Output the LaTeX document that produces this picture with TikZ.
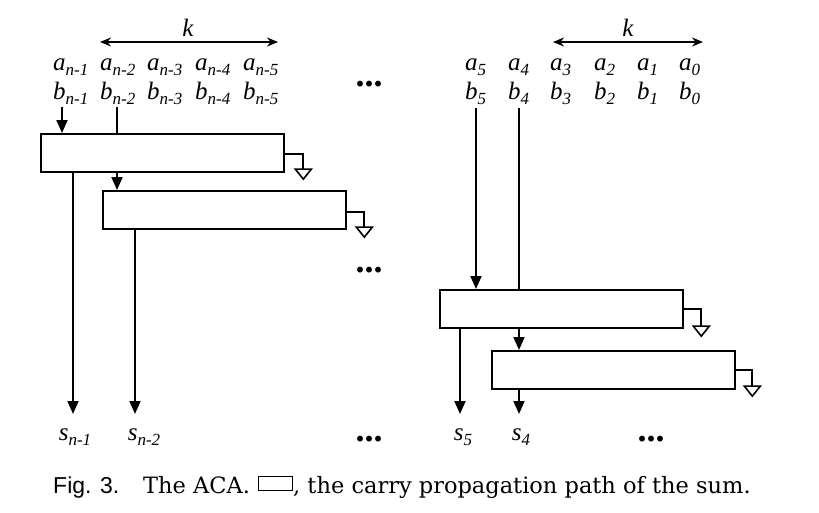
\documentclass[tikz,border=0pt]{standalone}
\usepackage{fontspec}
\setmainfont{Liberation Serif}
\newfontfamily\capsans{Liberation Sans}
\newfontfamily\capserif{DejaVu Serif}
\usetikzlibrary{arrows.meta}
\newcommand{\vv}[2]{\textit{#1}\raisebox{-5pt}{\fontsize{17}{17}\selectfont\itshape #2}}
\tikzset{
  lbl/.style={inner sep=0pt, anchor=base west, font=\fontsize{25}{25}\selectfont},
  slbl/.style={inner sep=0pt, anchor=base, font=\fontsize{25}{25}\selectfont},
  blk/.style={draw, line width=2.3pt, anchor=north west, minimum width=243pt, minimum height=38pt, inner sep=0pt},
  wire/.style={line width=1.9pt},
  arr/.style={line width=1.9pt, -{Triangle[length=13pt,width=11pt]}},
  karr/.style={line width=1.8pt, {Stealth[length=11pt,width=9pt]}-{Stealth[length=11pt,width=9pt]}},
  dots/.style={inner sep=0pt, anchor=base, font=\fontsize{36}{36}\selectfont\bfseries},
  gnd/.pic={\draw[line width=1.6pt, fill=white, line join=miter] (-8,0) -- (8,0) -- (0,10) -- cycle;}
}
\begin{document}
\begin{tikzpicture}[x=1pt,y=-1pt]
\useasboundingbox (0,0) rectangle (819,512);
% ---------- left group ----------
\node[inner sep=0pt, anchor=base, font=\fontsize{25}{25}\selectfont\itshape] (kL) at (188,36) {k};
\coordinate (kL1) at (100,42); \coordinate (kL2) at (278,42);
\draw[karr] (kL1) -- (kL2);
\node[lbl] (an1) at (53,70) {\vv{a}{n-1}};
\node[lbl] (an2) at (100,70) {\vv{a}{n-2}};
\node[lbl] (an3) at (147,70) {\vv{a}{n-3}};
\node[lbl] (an4) at (195,70) {\vv{a}{n-4}};
\node[lbl] (an5) at (243,70) {\vv{a}{n-5}};
\node[lbl] (bn1) at (53,99) {\vv{b}{n-1}};
\node[lbl] (bn2) at (100,99) {\vv{b}{n-2}};
\node[lbl] (bn3) at (147,99) {\vv{b}{n-3}};
\node[lbl] (bn4) at (195,99) {\vv{b}{n-4}};
\node[lbl] (bn5) at (243,99) {\vv{b}{n-5}};
\node[blk] (B1) at (40,133) {};
\node[blk] (B2) at (102,190) {};
\coordinate (i1) at (62,107);
\coordinate (i2) at (117,107);
\draw[arr] (i1) -- (i1 |- B1.north);
\draw[wire] (i2) -- (i2 |- B1.north);
\coordinate (c12) at (117,171);
\draw[arr] (c12) -- (c12 |- B2.north);
\node[slbl] (sn1) at (75,440) {\vv{s}{n-1}};
\node[slbl] (sn2) at (144,440) {\vv{s}{n-2}};
\coordinate (o1) at (73,171);
\coordinate (o2) at (135,229);
\draw[arr] (o1) -- (o1 |- 0,414);
\draw[arr] (o2) -- (o2 |- 0,414);
\draw[wire] ([yshift=-1pt]B1.east) -- ++(18,0) -- ++(0,15) pic {gnd};
\draw[wire] ([yshift=-2pt]B2.east) -- ++(17,0) -- ++(0,15) pic {gnd};
\node[dots] (d1) at (369,86) {...};
\node[dots] (d2) at (369,272) {...};
\node[dots] (d3) at (369,441) {...};
% ---------- right group ----------
\node[inner sep=0pt, anchor=base, font=\fontsize{25}{25}\selectfont\itshape] (kR) at (628,36) {k};
\coordinate (kR1) at (553,42); \coordinate (kR2) at (703,42);
\draw[karr] (kR1) -- (kR2);
\node[lbl] (a5) at (465,70) {\vv{a}{5}};
\node[lbl] (a4) at (508,70) {\vv{a}{4}};
\node[lbl] (a3) at (550,70) {\vv{a}{3}};
\node[lbl] (a2) at (594,70) {\vv{a}{2}};
\node[lbl] (a1) at (637,70) {\vv{a}{1}};
\node[lbl] (a0) at (679,70) {\vv{a}{0}};
\node[lbl] (b5) at (465,99) {\vv{b}{5}};
\node[lbl] (b4) at (508,99) {\vv{b}{4}};
\node[lbl] (b3) at (550,99) {\vv{b}{3}};
\node[lbl] (b2) at (594,99) {\vv{b}{2}};
\node[lbl] (b1) at (637,99) {\vv{b}{1}};
\node[lbl] (b0) at (679,99) {\vv{b}{0}};
\node[blk] (B3) at (439,289) {};
\node[blk] (B4) at (491,350) {};
\coordinate (j1) at (476,108);
\coordinate (j2) at (519,108);
\draw[arr] (j1) -- (j1 |- B3.north);
\draw[wire] (j2) -- (j2 |- B3.north);
\coordinate (c34) at (519,327);
\draw[arr] (c34) -- (c34 |- B4.north);
\coordinate (o3) at (460,327);
\coordinate (o4) at (519,388);
\draw[arr] (o3) -- (o3 |- 0,414);
\draw[arr] (o4) -- (o4 |- 0,414);
\node[slbl] (s5) at (463,440) {\vv{s}{5}};
\node[slbl] (s4) at (521,440) {\vv{s}{4}};
\draw[wire] (B3.east) -- ++(17,0) -- ++(0,17) pic {gnd};
\draw[wire] (B4.east) -- ++(16,0) -- ++(0,16) pic {gnd};
\node[dots] (d4) at (651,441) {...};
% ---------- caption ----------
\node[inner sep=0pt, anchor=base west, font=\capsans\fontsize{23}{23}\selectfont] (fig) at (53,493) {Fig. 3.};
\node[inner sep=0pt, anchor=base west, font=\capserif\fontsize{22.5}{22.5}\selectfont] (cap1) at (143,493) {The ACA.};
\node[draw, line width=1.4pt, minimum width=34pt, minimum height=14pt, inner sep=0pt, anchor=south west] (ib) at (258,491) {};
\node[inner sep=0pt, anchor=base west, font=\capserif\fontsize{22.5}{22.5}\selectfont] (cap2) at (293,493) {, the carry propagation path of the sum.};
\end{tikzpicture}
\end{document}
